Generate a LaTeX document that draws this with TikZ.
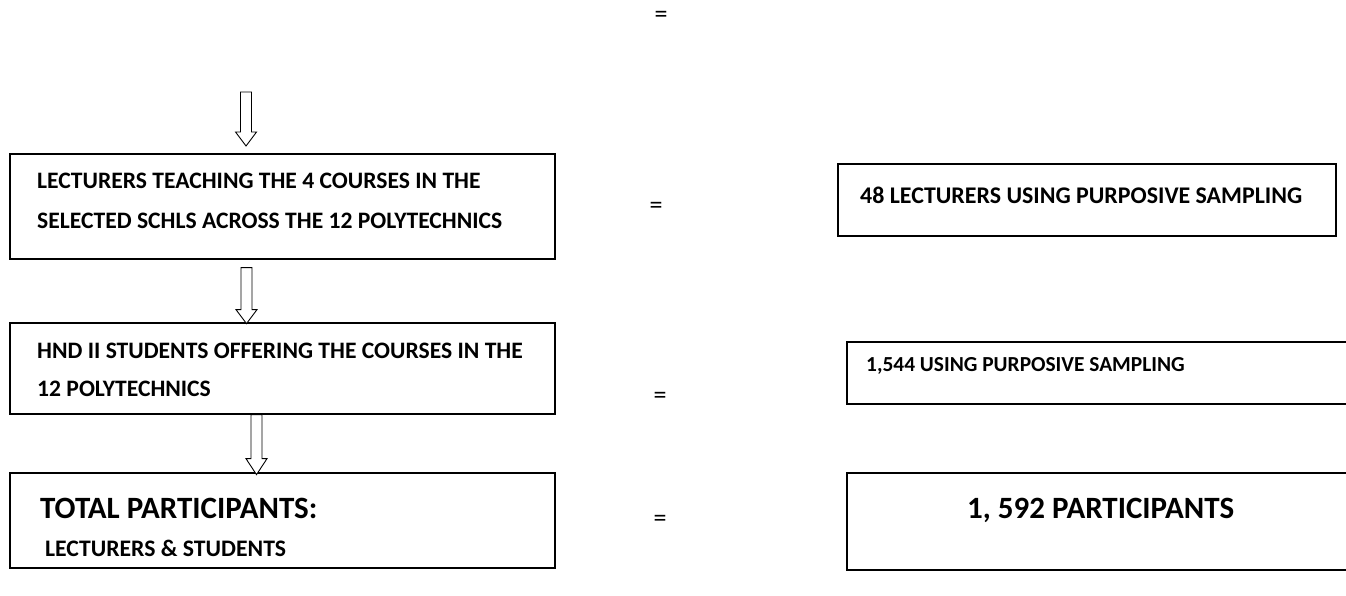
\documentclass[tikz,border=0pt]{standalone}
\usepackage{fontspec}
\setmainfont{Carlito}
\begin{document}
\begin{tikzpicture}[x=1pt,y=-1pt,
  box/.style={draw, line width=1.3pt, rectangle, inner sep=0pt},
  lbl/.style={anchor=base west, inner sep=0pt, font=\fontsize{#1}{#1}\selectfont\bfseries},
  eqsign/.style={inner sep=0pt, font=\fontsize{26}{26}\selectfont},
  arrowline/.style={draw, line width=0.9pt, fill=white, line join=miter},
  pics/blockdown/.style 2 args={code={
    \path[arrowline] (-5.5,0) -- (-5.5,#1) -- (-10.5,#1) -- (0,#2) -- (10.5,#1) -- (5.5,#1) -- (5.5,0) -- cycle;
  }}]
\useasboundingbox (0,0) rectangle (1346,596);
% left boxes
\node[box, minimum width=545pt, minimum height=105pt] (b1) at (282.5,206.5) {};
\node[box, minimum width=545pt, minimum height=91pt] (b2) at (282.5,368.5) {};
\node[box, minimum width=545pt, minimum height=95pt] (b3) at (282.5,520.5) {};
% right boxes
\node[box, minimum width=498pt, minimum height=72pt] (ra) at (1087,200) {};
\node[box, minimum width=501pt, minimum height=62pt] (rb) at (1097.5,373) {};
\node[box, minimum width=501pt, minimum height=97pt] (rc) at (1097.5,521.5) {};
% texts
\node[lbl=23.6] (t1a) at (37,189) {LECTURERS TEACHING THE 4 COURSES IN THE};
\node[lbl=23.6] (t1b) at (37,228) {SELECTED SCHLS ACROSS THE 12 POLYTECHNICS};
\node[lbl=23.6] (t2a) at (37,358) {HND II STUDENTS OFFERING THE COURSES IN THE};
\node[lbl=23.6] (t2b) at (37,396) {12 POLYTECHNICS};
\node[lbl=31] (t3a) at (40,518) {TOTAL PARTICIPANTS:};
\node[lbl=23.7] (t3b) at (45,556) {LECTURERS \& STUDENTS};
\node[lbl=23.9] (ta) at (860,204) {48 LECTURERS USING PURPOSIVE SAMPLING};
\node[lbl=21.4] (tb) at (866,371) {1,544 USING PURPOSIVE SAMPLING};
\node[lbl=31] (tc) at (967,518) {1, 592 PARTICIPANTS};
% equals signs
\node[eqsign] (e0) at (661,17) {=};
\node[eqsign] (e1) at (656,208) {=};
\node[eqsign] (e2) at (660,398) {=};
\node[eqsign] (e3) at (660,521) {=};
% block arrows
\coordinate (a1) at (246,92);
\coordinate (a2) at ([xshift=-36pt]b1.south);
\coordinate (a3) at ([xshift=-26pt]b2.south);
\pic at (a1) {blockdown={40}{54}};
\pic at ([yshift=-8pt]a2) {blockdown={42}{56}};
\pic at (a3) {blockdown={44}{60}};
\end{tikzpicture}
\end{document}
